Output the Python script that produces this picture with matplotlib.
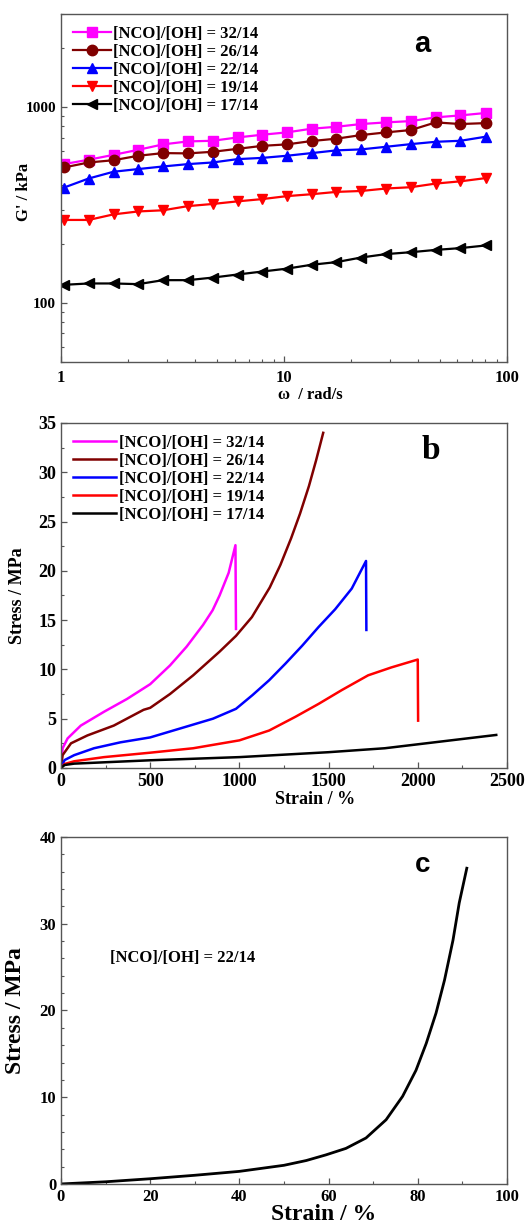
import matplotlib
matplotlib.use('Agg')
import matplotlib.pyplot as plt
from matplotlib.ticker import FixedLocator, LogLocator, NullFormatter, FuncFormatter, MultipleLocator

plt.rcParams['font.family'] = 'Liberation Serif'
plt.rcParams['font.weight'] = 'bold'
plt.rcParams['axes.labelweight'] = 'bold'

# ---- panel a: storage modulus vs angular frequency ----
labels = ['[NCO]/[OH] = 32/14', '[NCO]/[OH] = 26/14', '[NCO]/[OH] = 22/14',
          '[NCO]/[OH] = 19/14', '[NCO]/[OH] = 17/14']
colors = ['#ff00ff', '#800000', '#0000ff', '#ff0000', '#000000']
markers = ['s', 'o', '^', 'v', '<']

omega = [1.03, 1.33, 1.72, 2.22, 2.87, 3.71, 4.79, 6.19, 8.0, 10.3, 13.3,
         17.2, 22.2, 28.7, 37.1, 47.9, 61.9, 80.2]
g_32 = [513, 540, 572, 607, 647, 670, 675, 702, 725, 745, 778, 796, 822, 838, 851, 889, 910, 936]
g_26 = [493, 523, 537, 566, 584, 582, 593, 614, 636, 647, 673, 692, 722, 745, 766, 838, 822, 831]
g_22 = [389, 433, 469, 484, 499, 513, 523, 544, 552, 566, 584, 603, 610, 629, 649, 667, 675, 708]
g_19 = [266, 266, 284, 294, 298, 313, 321, 331, 340, 352, 360, 370, 374, 385, 391, 408, 419, 435]
g_17 = [124, 126, 126, 125, 131, 131, 135, 140, 145, 150, 157, 162, 171, 178, 182, 187, 191, 197]
g_all = [g_32, g_26, g_22, g_19, g_17]

# ---- panel b: stress-strain curves ----
strain_32 = [0, 9, 37, 111, 241, 370, 500, 611, 704, 796, 850, 889, 940, 978, 981]
stress_32 = [0, 2.0, 3.0, 4.3, 5.7, 7.0, 8.5, 10.4, 12.3, 14.5, 16.0, 17.5, 19.8, 22.6, 14.1]
strain_26 = [0, 9, 56, 148, 296, 463, 500, 611, 741, 889, 981, 1070, 1170, 1230, 1290, 1340, 1390, 1430, 1470]
stress_26 = [0, 1.3, 2.5, 3.3, 4.3, 5.9, 6.1, 7.5, 9.4, 11.8, 13.4, 15.3, 18.3, 20.6, 23.3, 25.8, 28.6, 31.2, 34.0]
strain_22 = [0, 20, 74, 185, 333, 500, 704, 852, 981, 1074, 1167, 1259, 1352, 1444, 1537, 1630, 1710, 1712]
stress_22 = [0, 0.8, 1.3, 2.0, 2.6, 3.1, 4.2, 5.0, 6.0, 7.4, 8.9, 10.6, 12.4, 14.3, 16.1, 18.2, 21.0, 14.0]
strain_19 = [0, 20, 74, 241, 500, 741, 1000, 1167, 1315, 1444, 1574, 1722, 1852, 2000, 2002]
stress_19 = [0, 0.4, 0.68, 1.1, 1.55, 2.0, 2.8, 3.8, 5.2, 6.5, 7.9, 9.4, 10.2, 11.0, 4.8]
strain_17 = [0, 20, 74, 500, 1000, 1500, 1815, 2000, 2185, 2440]
stress_17 = [0, 0.3, 0.44, 0.78, 1.1, 1.6, 2.0, 2.4, 2.8, 3.35]
strains = [strain_32, strain_26, strain_22, strain_19, strain_17]
stresses = [stress_32, stress_26, stress_22, stress_19, stress_17]

# ---- panel c: single compression curve ----
strain_c = [0, 10, 20, 30, 40, 50, 55, 59.4, 63.9, 68.4, 72.9, 76.6, 79.6, 81.9, 84.1, 86.0, 87.9, 89.3, 91.0]
stress_c = [0, 0.25, 0.6, 1.0, 1.45, 2.15, 2.7, 3.35, 4.1, 5.3, 7.4, 10.1, 13.1, 16.2, 19.7, 23.5, 28.1, 32.4, 36.4]

fig = plt.figure(figsize=(5.29, 12.26), dpi=100)
ax_a = fig.add_axes([0.1153, 0.7047, 0.843, 0.2839])
ax_b = fig.add_axes([0.1153, 0.3736, 0.843, 0.2814])
ax_c = fig.add_axes([0.1153, 0.0343, 0.843, 0.2830])

spine_col = '#555555'
for ax in (ax_a, ax_b, ax_c):
    for s in ax.spines.values():
        s.set_color(spine_col)
        s.set_linewidth(1.0)
    ax.tick_params(which='both', direction='in', top=False, right=False, color=spine_col)
    ax.tick_params(which='major', length=4, width=0.9)
    ax.tick_params(which='minor', length=2.5, width=0.8)

# panel a
for g, c, m, lab in zip(g_all, colors, markers, labels):
    ax_a.plot(omega, g, color=c, marker=m, markersize=7.5, lw=1.6, label=lab)
ax_a.set_xscale('log')
ax_a.set_yscale('log')
ax_a.set_xlim(1, 100)
ax_a.set_ylim(50, 3000)
fmt = FuncFormatter(lambda v, p: '%d' % round(v))
ax_a.xaxis.set_major_formatter(fmt)
ax_a.yaxis.set_major_locator(FixedLocator([100, 1000]))
ax_a.yaxis.set_major_formatter(fmt)
ax_a.yaxis.set_minor_locator(LogLocator(base=10, subs=range(2, 10)))
ax_a.yaxis.set_minor_formatter(NullFormatter())
ax_a.xaxis.set_minor_formatter(NullFormatter())
ax_a.tick_params(axis='x', labelsize=12, pad=6)
ax_a.tick_params(axis='y', labelsize=11)
ax_a.set_xlabel('ω  / rad/s', fontsize=12)
ax_a.set_ylabel("G' / kPa", fontsize=12)
ax_a.xaxis.set_label_coords(0.56, -0.072)
ax_a.yaxis.set_label_coords(-0.065, 0.49)
ax_a.legend(loc='upper left', frameon=False, fontsize=12, labelspacing=0.12,
            handlelength=2.3, handletextpad=0.1, borderaxespad=0.3)
ax_a.text(0.81, 0.915, 'a', transform=ax_a.transAxes, ha='center', va='center',
          fontsize=21, fontweight='bold', family='Liberation Sans')

# panel b
for x, y, c, lab in zip(strains, stresses, colors, labels):
    ax_b.plot(x, y, color=c, lw=1.8, label=lab)
ax_b.set_xlim(0, 2500)
ax_b.set_ylim(0, 35)
ax_b.xaxis.set_major_locator(MultipleLocator(500))
ax_b.xaxis.set_minor_locator(MultipleLocator(250))
ax_b.yaxis.set_major_locator(MultipleLocator(5))
ax_b.yaxis.set_minor_locator(MultipleLocator(2.5))
ax_b.tick_params(labelsize=13)
ax_b.set_xlabel('Strain / %', fontsize=13)
ax_b.set_ylabel('Stress / MPa', fontsize=13)
ax_b.xaxis.set_label_coords(0.57, -0.066)
ax_b.yaxis.set_label_coords(-0.078, 0.5)
ax_b.legend(loc='upper left', frameon=False, fontsize=12, labelspacing=0.12,
            handlelength=2.6, handletextpad=0.2, borderaxespad=0.3)
ax_b.text(0.83, 0.92, 'b', transform=ax_b.transAxes, ha='center', va='center',
          fontsize=24, fontweight='bold')

# panel c
ax_c.plot(strain_c, stress_c, color='black', lw=2.0)
ax_c.set_xlim(0, 100)
ax_c.set_ylim(0, 40)
ax_c.xaxis.set_major_locator(MultipleLocator(20))
ax_c.xaxis.set_minor_locator(MultipleLocator(10))
ax_c.yaxis.set_major_locator(MultipleLocator(10))
ax_c.yaxis.set_minor_locator(MultipleLocator(2))
ax_c.tick_params(labelsize=12)
ax_c.set_xlabel('Strain / %', fontsize=17)
ax_c.set_ylabel('Stress / MPa', fontsize=17)
ax_c.xaxis.set_label_coords(0.59, -0.058)
ax_c.yaxis.set_label_coords(-0.078, 0.5)
ax_c.text(0.11, 0.65, '[NCO]/[OH] = 22/14', transform=ax_c.transAxes,
          ha='left', va='center', fontsize=12, fontweight='bold')
ax_c.text(0.81, 0.92, 'c', transform=ax_c.transAxes, ha='center', va='center',
          fontsize=20, fontweight='bold', family='Liberation Sans')

plt.savefig('out.png', dpi=100)
plt.close()
